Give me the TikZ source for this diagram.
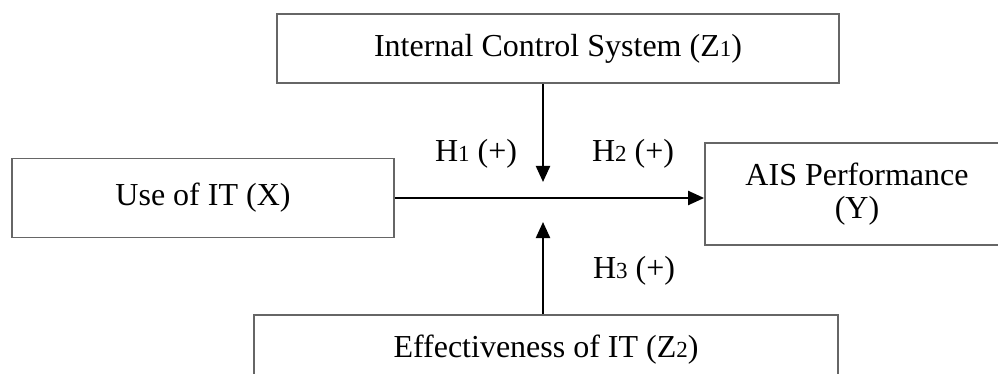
\documentclass[tikz,border=0pt]{standalone}
\usepackage{fontspec}
\setmainfont{Liberation Serif}
\usepackage{tikz}
\usetikzlibrary{arrows.meta}
\newcommand{\smallidx}[1]{{\fontsize{23}{23}\selectfont #1}}

\begin{document}
\begin{tikzpicture}
            [x=1pt, y=-1pt,
            every node/.style={align=center, font=\fontsize{32}{33}\selectfont},
            box/.style={draw=black!60, line width=1.8pt, rectangle, inner sep=0pt},
            link/.style={draw=black, line width=2.2pt, -{Triangle[length=16pt,width=14pt]}},
            hyp/.style={inner sep=0pt}]

            \useasboundingbox (0,0) rectangle (998,374);
            \clip (0,0) rectangle (998,374);

            \node[box, minimum width=562pt, minimum height=69pt] (ics) at (558,48.5) {Internal Control System (Z\smallidx{1})};
            \node[box, minimum width=382pt, minimum height=79pt] (useit) at (203,198) {Use of IT (X)};
            \node[box, minimum width=304pt, minimum height=102pt] (ais) at (857,194) {AIS Performance \\ (Y)};
            \node[box, minimum width=584pt, minimum height=70pt] (eff) at (546,350) {Effectiveness of IT (Z\smallidx{2})};

            \node[hyp] (h1) at (476,154) {H\smallidx{1} (+)};
            \node[hyp] (h2) at (633,154) {H\smallidx{2} (+)};
            \node[hyp] (h3) at (634,271) {H\smallidx{3} (+)};

            \coordinate (dtip) at (543,182);
            \coordinate (utip) at (543,222);

            \draw[link] (useit.east) -- (useit.east -| ais.west);
            \draw[link] (ics.south -| dtip) -- (dtip);
            \draw[link] (eff.north -| utip) -- (utip);
        \end{tikzpicture}
\end{document}
